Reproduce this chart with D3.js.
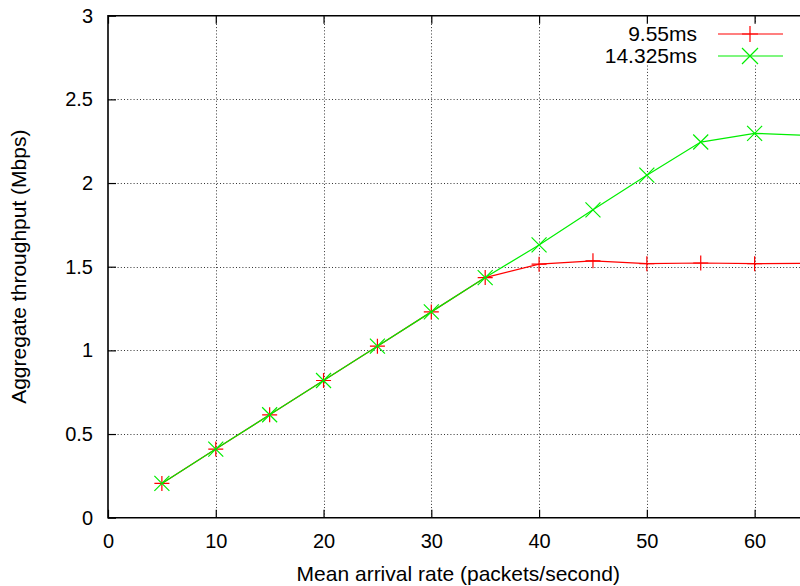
<!DOCTYPE html>
<html>
<head>
<meta charset="utf-8">
<script src="https://cdn.jsdelivr.net/npm/d3@7"></script>
<style>
	body{margin:0;background:#fff;}
	svg{display:block;}
	text{font-family:"Liberation Sans",Arial,Helvetica,sans-serif;fill:#000;}
</style>
</head>
<body>
<div id="chart"></div>
<script>
// mean arrival rate (packets/second)
const rates = [5,10,15,20,25,30,35,40,45,50,55,60,65];
// aggregate throughput (Mbps) for each delay
const thr_955 = [0.205,0.41,0.615,0.82,1.025,1.23,1.435,1.515,1.535,1.518,1.522,1.518,1.52];
const thr_14325 = [0.205,0.41,0.615,0.82,1.025,1.23,1.435,1.63,1.84,2.047,2.245,2.297,2.285];
const series_names = ["9.55ms","14.325ms"];
const series_colors = ["#ff0000","#00ee00"];
const xticks = [0,10,20,30,40,50,60];
const yticks = [0,0.5,1,1.5,2,2.5,3];

const W = 800, H = 586;
const mLeft = 108, mTop = 15.7, mRight = 808.5, mBottom = 517.7;

const X = d3.scaleLinear().domain([0,65]).range([mLeft,mRight]);
const Y = d3.scaleLinear().domain([0,3]).range([mBottom,mTop]);

const svg = d3.select("#chart").append("svg")
	.attr("width",W).attr("height",H)
	.attr("viewBox","0 0 "+W+" "+H);

// grid
const grid = svg.append("g").attr("class","grid")
	.style("stroke","#333").style("stroke-width",1).style("stroke-dasharray","1,2.2");
grid.selectAll(".gx").data(xticks.filter(d=>d>0)).enter().append("line")
	.attr("x1",d=>Math.round(X(d))+0.5).attr("x2",d=>Math.round(X(d))+0.5)
	.attr("y1",mBottom).attr("y2",mTop);
grid.selectAll(".gy").data(yticks.filter(d=>d>0 && d<3)).enter().append("line")
	.attr("x1",mLeft).attr("x2",W)
	.attr("y1",d=>Math.round(Y(d))+0.5).attr("y2",d=>Math.round(Y(d))+0.5);

// legend background hides grid
svg.append("rect").attr("x",598).attr("y",23).attr("width",W-598).attr("height",42).style("fill","#fff");

// axes
const xAxis = d3.axisBottom(X).tickValues(xticks).tickSize(-8).tickPadding(16).tickFormat(d3.format("d"));
const yAxis = d3.axisLeft(Y).tickValues(yticks).tickSize(-8).tickPadding(15).tickFormat(d=>d);
const xTop = d3.axisTop(X).tickValues(xticks).tickSize(-8).tickFormat("");

const gx = svg.append("g").attr("transform","translate(0,"+mBottom+")").call(xAxis);
const gy = svg.append("g").attr("transform","translate("+mLeft+",0)").call(yAxis);
const gt = svg.append("g").attr("transform","translate(0,"+mTop+")").call(xTop);
[gx,gy,gt].forEach(g=>{
	g.select(".domain").remove();
	g.selectAll(".tick line").style("stroke","#000").style("stroke-width",1.2);
	g.selectAll(".tick text").style("font-size","20px").style("font-family","'Liberation Sans',Arial,sans-serif");
});
gx.selectAll(".tick text").attr("dy","0.71em");

// border
svg.append("path")
	.attr("d","M"+W+","+mTop+"H"+mLeft+"V"+mBottom+"H"+W)
	.style("fill","none").style("stroke","#000").style("stroke-width",1.6);

// series
const line = d3.line().x((d,i)=>X(rates[i])).y(d=>Y(d));
const plus = s=>"M"+(-s)+",0H"+s+"M0,"+(-s)+"V"+s;
const cross = s=>"M"+(-s)+","+(-s)+"L"+s+","+s+"M"+(-s)+","+s+"L"+s+","+(-s);
const markers = [plus,cross];
const series = [thr_955,thr_14325];

series.forEach((vals,k)=>{
	const g = svg.append("g");
	g.append("path").attr("d",line(vals))
		.style("fill","none").style("stroke",series_colors[k]).style("stroke-width",1.2);
	g.selectAll(".m").data(vals).enter().append("path")
		.attr("transform",(d,i)=>"translate("+X(rates[i])+","+Y(d)+")")
		.attr("d",markers[k](7.5))
		.style("fill","none").style("stroke",series_colors[k]).style("stroke-width",1.2);
});

// legend
const legend = svg.append("g");
series_names.forEach((name,k)=>{
	const ly = 34 + k*22;
	legend.append("text").attr("x",697).attr("y",ly).attr("dy","0.35em")
		.style("text-anchor","end").style("font-size","21px").text(name);
	legend.append("line").attr("x1",718).attr("x2",783).attr("y1",ly).attr("y2",ly)
		.style("stroke",series_colors[k]).style("stroke-width",1.2);
	legend.append("path").attr("transform","translate(750,"+ly+")").attr("d",markers[k](8))
		.style("fill","none").style("stroke",series_colors[k]).style("stroke-width",1.2);
});

// axis labels
svg.append("text").attr("x",(mLeft+mRight)/2).attr("y",581)
	.style("text-anchor","middle").style("font-size","21px")
	.text("Mean arrival rate (packets/second)");
svg.append("text").attr("transform","translate(26,"+((mTop+mBottom)/2)+") rotate(-90)")
	.style("text-anchor","middle").style("font-size","21px")
	.text("Aggregate throughput (Mbps)");
</script>
</body>
</html>
